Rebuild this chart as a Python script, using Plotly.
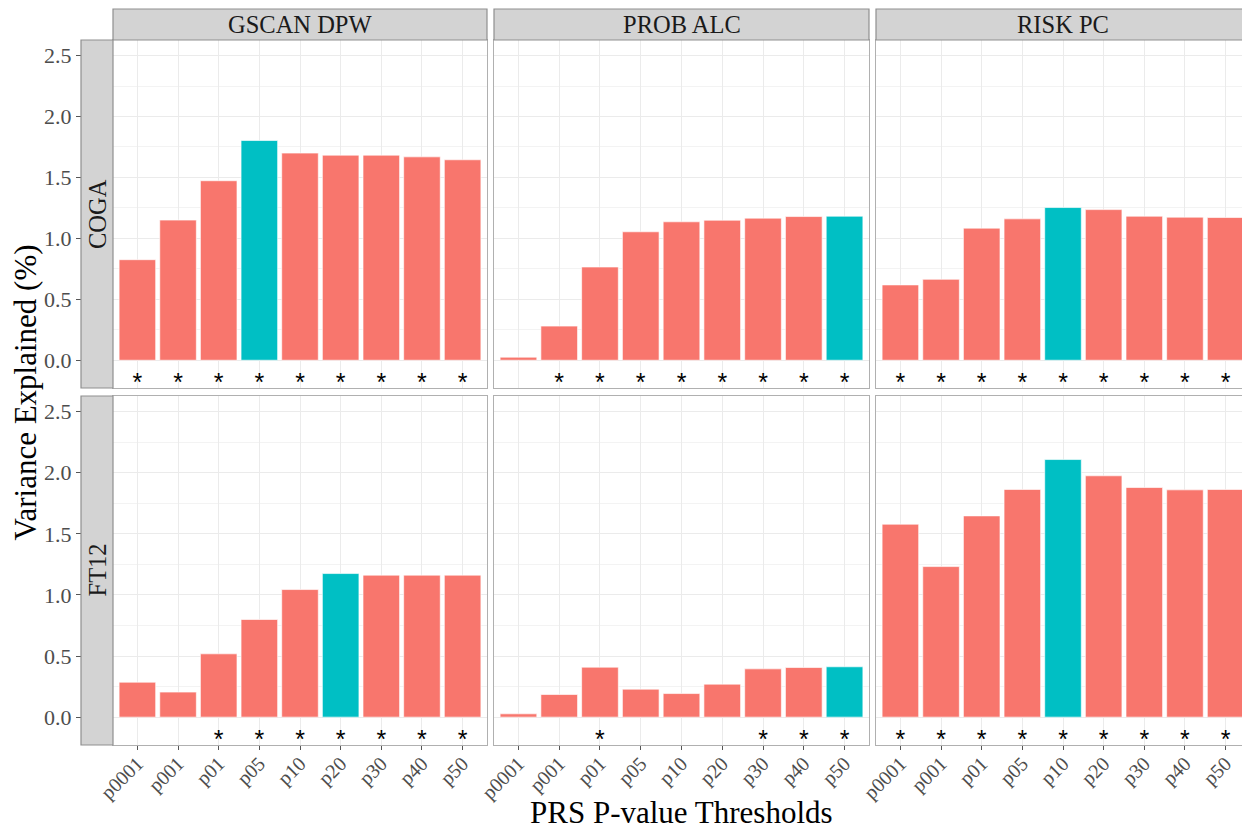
import plotly.graph_objects as go

# The page body adds an 8px margin; the figure is sized/offset to compensate.
OFF = 8
W, H = 1242, 823

thresholds = ["p0001", "p001", "p01", "p05", "p10", "p20", "p30", "p40", "p50"]
traits = ["GSCAN DPW", "PROB ALC", "RISK PC"]
cohorts = ["COGA", "FT12"]

# Variance explained (%)
coga_gscan_dpw = [0.825, 1.15, 1.473, 1.803, 1.70, 1.683, 1.683, 1.669, 1.645]
coga_prob_alc = [0.025, 0.28, 0.765, 1.054, 1.136, 1.149, 1.166, 1.179, 1.182]
coga_risk_pc = [0.618, 0.664, 1.084, 1.16, 1.253, 1.236, 1.182, 1.174, 1.171]
ft12_gscan_dpw = [0.286, 0.205, 0.518, 0.799, 1.044, 1.175, 1.162, 1.162, 1.162]
ft12_prob_alc = [0.027, 0.185, 0.409, 0.229, 0.193, 0.27, 0.395, 0.406, 0.412]
ft12_risk_pc = [1.579, 1.232, 1.647, 1.863, 2.108, 1.975, 1.879, 1.86, 1.863]

# Significance flags (asterisks)
coga_gscan_dpw_sig = [1, 1, 1, 1, 1, 1, 1, 1, 1]
coga_prob_alc_sig = [0, 1, 1, 1, 1, 1, 1, 1, 1]
coga_risk_pc_sig = [1, 1, 1, 1, 1, 1, 1, 1, 1]
ft12_gscan_dpw_sig = [0, 0, 1, 1, 1, 1, 1, 1, 1]
ft12_prob_alc_sig = [0, 0, 1, 0, 0, 0, 1, 1, 1]
ft12_risk_pc_sig = [1, 1, 1, 1, 1, 1, 1, 1, 1]

# Best threshold per panel (highlighted)
coga_best = ["p05", "p50", "p10"]
ft12_best = ["p20", "p50", "p10"]

values = [[coga_gscan_dpw, coga_prob_alc, coga_risk_pc],
          [ft12_gscan_dpw, ft12_prob_alc, ft12_risk_pc]]
sigs = [[coga_gscan_dpw_sig, coga_prob_alc_sig, coga_risk_pc_sig],
        [ft12_gscan_dpw_sig, ft12_prob_alc_sig, ft12_risk_pc_sig]]
bests = [coga_best, ft12_best]

# ---- style / layout constants ----
RED = "#F8766D"
TEAL = "#00BFC4"
FONT = "Liberation Serif"
STAR_FONT = "Liberation Sans"
STAR_Y = -0.205
YRANGE = [-0.228, 2.628]

col_px = [(113, 487), (494, 869), (876, 1250)]
row_px = [(40, 388), (396, 745)]
strip_top = 9
strip_left = 81


def X(px):
    return (px - OFF) / W


def Y(py):
    return 1 - (py - OFF) / H


fig = go.Figure()
shapes = []
annotations = []

for r in range(2):
    for c in range(3):
        idx = r * 3 + c + 1
        xa = "x" if idx == 1 else f"x{idx}"
        ya = "y" if idx == 1 else f"y{idx}"
        vals = values[r][c]
        colors = [TEAL if t == bests[r][c] else RED for t in thresholds]
        fig.add_trace(go.Bar(
            x=thresholds, y=vals,
            marker=dict(color=colors, line=dict(color="rgba(255,255,255,0.8)", width=0.8)),
            xaxis=xa, yaxis=ya, showlegend=False, hoverinfo="x+y"))
        sx = [t for t, s in zip(thresholds, sigs[r][c]) if s]
        fig.add_trace(go.Scatter(
            x=sx, y=[STAR_Y] * len(sx), mode="text", text=["*"] * len(sx),
            textfont=dict(family=STAR_FONT, size=25, color="black"),
            xaxis=xa, yaxis=ya, showlegend=False, hoverinfo="skip"))

        xk = "xaxis" if idx == 1 else f"xaxis{idx}"
        yk = "yaxis" if idx == 1 else f"yaxis{idx}"
        x0, x1 = col_px[c]
        y0, y1 = row_px[r]
        bottom = r == 1
        left = c == 0
        fig.layout[xk] = dict(
            domain=[X(x0), min(X(x1), 1.0)], anchor=ya, type="category",
            categoryorder="array", categoryarray=thresholds,
            range=[-0.6, 8.6], showgrid=True, gridcolor="#EBEBEB", gridwidth=1,
            showline=True, mirror=True, linecolor="#B0B0B0", linewidth=1,
            ticks="outside" if bottom else "", ticklen=4, tickcolor="#555555",
            showticklabels=bottom, tickangle=-45, automargin=False,
            ticklabelstandoff=-6,
            tickfont=dict(family=FONT, size=20, color="#4D4D4D"),
            zeroline=False, fixedrange=True)
        fig.layout[yk] = dict(
            domain=[Y(y1), Y(y0)], anchor=xa, range=YRANGE,
            tick0=0, dtick=0.5, tickformat=".1f",
            showgrid=True, gridcolor="#EBEBEB", gridwidth=1,
            minor=dict(tick0=0.25, dtick=0.5, showgrid=True, gridcolor="#F3F3F3", gridwidth=1),
            showline=True, mirror=True, linecolor="#B0B0B0", linewidth=1,
            ticks="outside" if left else "", ticklen=36, tickcolor="#555555",
            showticklabels=left, automargin=False,
            tickfont=dict(family=FONT, size=22, color="#4D4D4D"),
            zeroline=False, fixedrange=True)

# column strips
for c, name in enumerate(traits):
    x0, x1 = col_px[c]
    shapes.append(dict(type="rect", xref="paper", yref="paper",
                       x0=X(x0), x1=min(X(x1), 1.0), y0=Y(row_px[0][0]), y1=Y(strip_top),
                       fillcolor="#D3D3D3", line=dict(color="#8F8F8F", width=1.2), layer="above"))
    annotations.append(dict(xref="paper", yref="paper", x=X((x0 + x1) / 2), y=Y((strip_top + row_px[0][0]) / 2),
                            text=name, showarrow=False, xanchor="center", yanchor="middle",
                            font=dict(family=FONT, size=24.5, color="#1A1A1A")))
# row strips
for r, name in enumerate(cohorts):
    y0, y1 = row_px[r]
    shapes.append(dict(type="rect", xref="paper", yref="paper",
                       x0=X(strip_left), x1=X(col_px[0][0]), y0=Y(y1), y1=Y(y0),
                       fillcolor="#D3D3D3", line=dict(color="#8F8F8F", width=1.2), layer="above"))
    annotations.append(dict(xref="paper", yref="paper", x=X((strip_left + col_px[0][0]) / 2), y=Y((y0 + y1) / 2),
                            text=name, showarrow=False, textangle=-90, xanchor="center", yanchor="middle",
                            font=dict(family=FONT, size=24.5, color="#1A1A1A")))

# axis titles
annotations.append(dict(xref="paper", yref="paper", x=X((col_px[0][0] + col_px[2][1]) / 2), y=Y(812),
                        text="PRS P-value Thresholds", showarrow=False, xanchor="center", yanchor="middle",
                        font=dict(family=FONT, size=31, color="black")))
annotations.append(dict(xref="paper", yref="paper", x=X(25), y=Y((row_px[0][0] + row_px[1][1]) / 2),
                        text="Variance Explained (%)", showarrow=False, textangle=-90,
                        xanchor="center", yanchor="middle",
                        font=dict(family=FONT, size=31, color="black")))

fig.update_layout(
    width=W, height=H, margin=dict(l=0, r=0, t=0, b=0, autoexpand=False),
    paper_bgcolor="white", plot_bgcolor="white",
    bargap=0.1, shapes=shapes, annotations=annotations,
    font=dict(family=FONT))

fig.write_html("out.html")
